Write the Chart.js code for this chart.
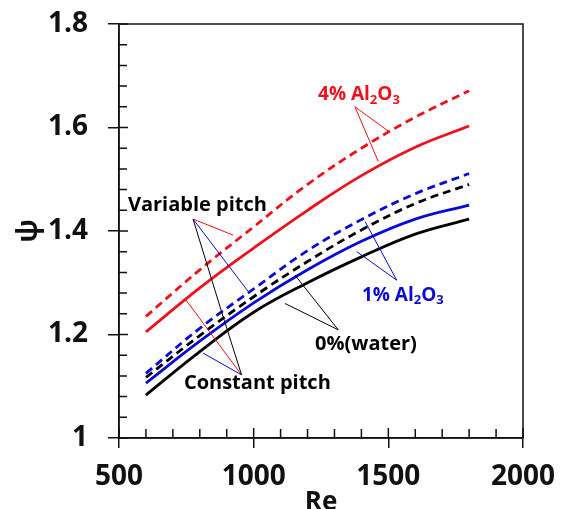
<!DOCTYPE html>
<html>
<head>
<meta charset="utf-8">
<script src="https://cdn.jsdelivr.net/npm/chart.js@4.4.0/dist/chart.umd.min.js"></script>
<style>
  html, body { margin: 0; padding: 0; background: #fff; overflow: hidden; }
  #wrap { width: 566px; height: 525px; }
</style>
</head>
<body>
<div id="wrap"><canvas id="psiChart"></canvas></div>
<script>
// Re values where each curve was sampled
const reynolds = [600, 800, 1000, 1200, 1400, 1600, 1800];

// psi for each concentration, variable pitch (dashed) and constant pitch (solid)
const al4Variable = [1.235, 1.325, 1.408, 1.490, 1.560, 1.620, 1.671];
const al4Constant = [1.205, 1.290, 1.367, 1.440, 1.507, 1.562, 1.603];
const al1Variable = [1.125, 1.212, 1.288, 1.362, 1.422, 1.472, 1.511];
const al1Constant = [1.106, 1.187, 1.261, 1.325, 1.380, 1.423, 1.450];
const waterVariable = [1.117, 1.198, 1.273, 1.341, 1.402, 1.453, 1.490];
const waterConstant = [1.083, 1.167, 1.243, 1.300, 1.350, 1.394, 1.423];

const xTickLabels = ['500', '1000', '1500', '2000'];
const yTickLabels = ['1', '1.2', '1.4', '1.6', '1.8'];

const RED = '#f0101c';
const BLUE = '#0a0ad8';
const BLACK = '#000000';
const FONT = "'Open Sans', sans-serif";

function series(label, values, color, dashed) {
  return {
    label: label,
    data: reynolds.map((re, i) => ({ x: re, y: values[i] })),
    borderColor: color,
    borderWidth: 2.8,
    borderDash: dashed ? [8, 5] : [],
    pointRadius: 0,
    fill: false,
    tension: 0.4,
  };
}

// callout text, anchored at (Re, psi) on its left/middle
const notes = [
  { at: [1239, 1.663], color: RED, size: 19, runs: [['4% Al'], ['2', 1], ['O'], ['3', 1]] },
  { at: [1402, 1.276], color: BLUE, size: 19, runs: [['1% Al'], ['2', 1], ['O'], ['3', 1]] },
  { at: [533, 1.450], color: BLACK, size: 20, runs: [['Variable pitch']] },
  { at: [741, 1.106], color: BLACK, size: 20, runs: [['Constant pitch']] },
  { at: [1228, 1.182], color: BLACK, size: 20, runs: [['0%(water)']] },
];

// thin leader lines from each callout to its curves
const leaders = [
  { color: RED, from: [1376, 1.640], to: [1500, 1.593] },
  { color: RED, from: [1376, 1.640], to: [1463, 1.534] },
  { color: BLUE, from: [1531, 1.305], to: [1414, 1.418] },
  { color: BLUE, from: [1531, 1.305], to: [1383, 1.360] },
  { color: BLACK, from: [1314, 1.209], to: [1116, 1.260] },
  { color: BLACK, from: [1314, 1.209], to: [1153, 1.315] },
  { color: RED, from: [775, 1.423], to: [924, 1.392] },
  { color: BLUE, from: [775, 1.423], to: [980, 1.283] },
  { color: BLACK, from: [775, 1.423], to: [882, 1.242] },
  { color: RED, from: [955, 1.122], to: [744, 1.270] },
  { color: BLUE, from: [955, 1.122], to: [812, 1.164] },
  { color: BLACK, from: [955, 1.122], to: [882, 1.242] },
];

const decorations = {
  id: 'decorations',
  afterDatasetsDraw(chart) {
    const { ctx, chartArea: a, scales: { x, y } } = chart;
    ctx.save();

    // box around the plot
    ctx.strokeStyle = '#111';
    ctx.lineWidth = 1.5;
    ctx.strokeRect(a.left, a.top, a.width, a.height);

    // inward tick marks (minor every 100 Re / 0.04 psi)
    ctx.beginPath();
    for (let re = 500; re <= 2000; re += 100) {
      const px = x.getPixelForValue(re);
      const len = re % 500 === 0 ? 10 : 9;
      ctx.moveTo(px, a.bottom);
      ctx.lineTo(px, a.bottom - len);
    }
    for (let k = 0; k <= 20; k++) {
      const py = y.getPixelForValue(1 + k * 0.04);
      const len = k % 5 === 0 ? 9 : 8;
      ctx.moveTo(a.left, py);
      ctx.lineTo(a.left + len, py);
    }
    ctx.stroke();

    // leader lines
    ctx.lineWidth = 1;
    leaders.forEach((l) => {
      ctx.strokeStyle = l.color;
      ctx.beginPath();
      ctx.moveTo(x.getPixelForValue(l.from[0]), y.getPixelForValue(l.from[1]));
      ctx.lineTo(x.getPixelForValue(l.to[0]), y.getPixelForValue(l.to[1]));
      ctx.stroke();
    });

    // callout labels, with subscripts
    ctx.textBaseline = 'middle';
    ctx.textAlign = 'left';
    notes.forEach((n) => {
      let px = x.getPixelForValue(n.at[0]);
      const py = y.getPixelForValue(n.at[1]);
      ctx.fillStyle = n.color;
      n.runs.forEach(([text, sub]) => {
        const size = sub ? Math.round(n.size * 0.68) : n.size;
        ctx.font = `bold ${size}px ${FONT}`;
        ctx.fillText(text, px, sub ? py + n.size * 0.28 : py);
        px += ctx.measureText(text).width;
      });
    });

    ctx.restore();
  },
};

new Chart(document.getElementById('psiChart'), {
  type: 'line',
  data: {
    datasets: [
      series('4% Al2O3 variable pitch', al4Variable, RED, true),
      series('4% Al2O3 constant pitch', al4Constant, RED, false),
      series('1% Al2O3 variable pitch', al1Variable, BLUE, true),
      series('0% (water) variable pitch', waterVariable, BLACK, true),
      series('1% Al2O3 constant pitch', al1Constant, BLUE, false),
      series('0% (water) constant pitch', waterConstant, BLACK, false),
    ],
  },
  options: {
    responsive: true,
    maintainAspectRatio: false,
    animation: false,
    layout: { padding: { top: 24, right: 43, left: 0, bottom: 0 } },
    plugins: { legend: { display: false }, tooltip: { enabled: false } },
    scales: {
      x: {
        type: 'linear',
        min: 500,
        max: 2000,
        afterFit: (scale) => {
          scale.height = 87;
          scale.paddingLeft = 0;
          scale.paddingRight = 0;
        },
        border: { display: true, color: '#111', width: 1.5 },
        grid: { drawOnChartArea: false, drawTicks: true, tickLength: 10, color: '#111', lineWidth: 1.5 },
        ticks: {
          stepSize: 500,
          padding: 12,
          color: '#111',
          maxRotation: 0,
          font: { family: FONT, size: 28, weight: 'bold' },
          callback: (v, i) => xTickLabels[i],
        },
        title: {
          display: true,
          text: 'Re',
          color: '#111',
          padding: { top: 0, bottom: 7 },
          font: { family: FONT, size: 26, weight: 'bold' },
        },
      },
      y: {
        min: 1,
        max: 1.8,
        afterFit: (scale) => {
          scale.width = 119;
          scale.paddingTop = 0;
          scale.paddingBottom = 0;
        },
        border: { display: true, color: '#111', width: 1.5 },
        grid: { drawOnChartArea: false, drawTicks: true, tickLength: 11, color: '#111', lineWidth: 1.5 },
        ticks: {
          stepSize: 0.2,
          padding: 20,
          color: '#111',
          font: { family: FONT, size: 28, weight: 'bold' },
          callback: (v, i) => yTickLabels[i],
        },
        title: {
          display: true,
          text: 'ψ',
          color: '#111',
          padding: { top: 12, bottom: 0 },
          font: { family: FONT, size: 28, weight: 'bold' },
        },
      },
    },
  },
  plugins: [decorations],
});
</script>
</body>
</html>
